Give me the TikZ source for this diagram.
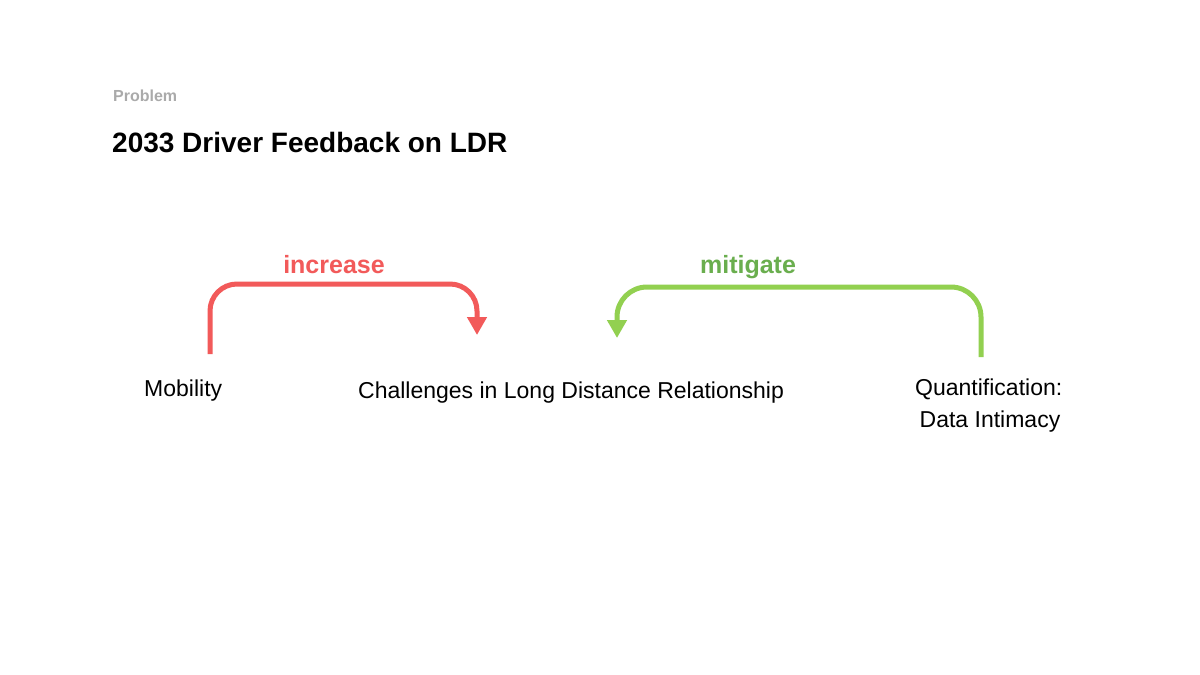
\documentclass[tikz,border=0pt]{standalone}
\usepackage{fontspec}
\setmainfont{Liberation Sans}
\usetikzlibrary{arrows.meta}
\definecolor{redc}{HTML}{F25A5A}
\definecolor{greenline}{HTML}{92D050}
\definecolor{greentext}{HTML}{6AAE4E}
\definecolor{graytext}{HTML}{AAAAAA}
\begin{document}
\begin{tikzpicture}[x=1pt,y=-1pt,
  txt/.style={inner sep=0pt, anchor=base west},
  lbl/.style={inner sep=0pt, anchor=base},
  body/.style={font=\fontsize{23}{27}\selectfont},
  link/.style={line width=5pt, -{Triangle[length=18pt,width=19pt]}}]
\useasboundingbox[fill=white] (0,0) rectangle (1200,675);
\node[txt, text=graytext, font=\fontsize{16}{19}\selectfont\bfseries] (prob) at (113,101) {Problem};
\node[txt, font=\fontsize{28}{33}\selectfont\bfseries] (title) at (112,152) {2033 Driver Feedback on LDR};
\node[txt, body] (mob) at (144,396) {Mobility};
\node[txt, body] (chal) at (358,398) {Challenges in Long Distance Relationship};
\node[txt, body] (quant) at (915,395) {Quantification:};
\node[lbl, body] (data) at (990,427) {Data Intimacy};
\node[lbl, text=redc, font=\fontsize{25}{30}\selectfont\bfseries] (inc) at (334,273) {increase};
\node[lbl, text=greentext, font=\fontsize{25}{30}\selectfont\bfseries] (mit) at (748,273) {mitigate};
\coordinate (r0) at (210,354);
\coordinate (r1) at (477,335);
\coordinate (g0) at (981,357);
\coordinate (g1) at (617,338);
\draw[link, draw=redc, rounded corners=27pt] (r0) |- (477,284) -- (r1);
\draw[link, draw=greenline, rounded corners=30pt] (g0) |- (617,287) -- (g1);
\end{tikzpicture}
\end{document}
